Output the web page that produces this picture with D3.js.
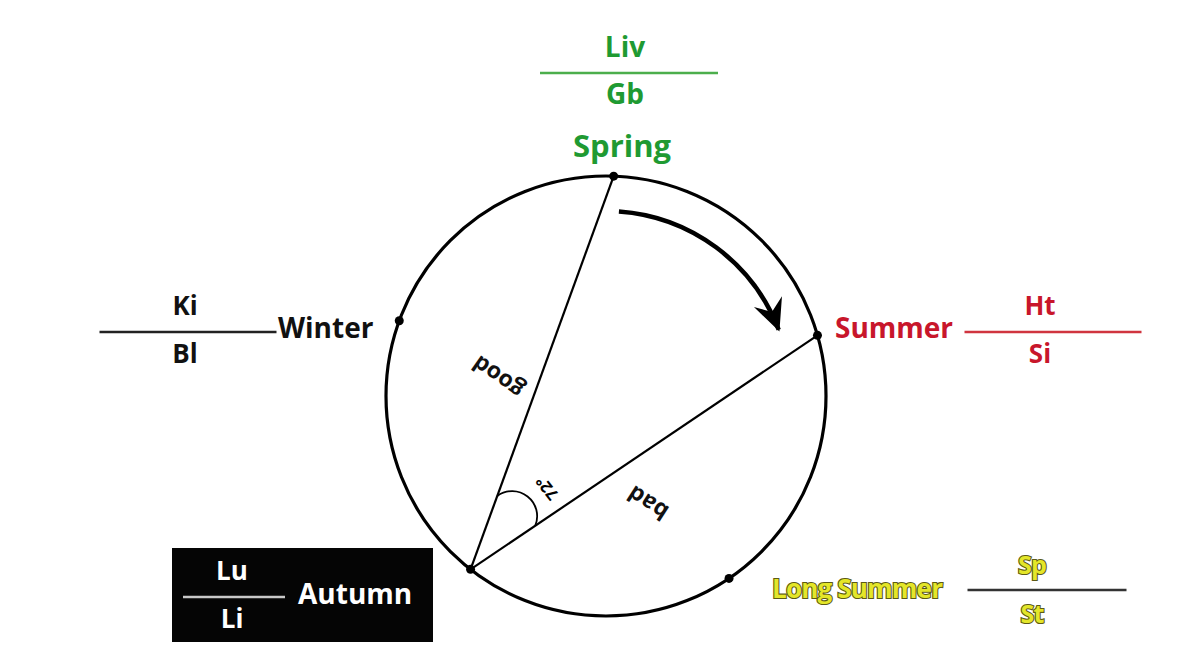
<!DOCTYPE html>
<html lang="en">
<head>
<meta charset="utf-8">
<style>
    body { margin: 0; background: #fff; }
    text { font-family: "Open Sans", "DejaVu Sans", sans-serif; font-weight: 700; }
</style>
<script src="https://d3js.org/d3.v7.min.js"></script>
</head>
<body>
<script>
    // seasons around the wheel, angle in degrees clockwise from top
    var seasons = ["Spring", "Summer", "Long Summer", "Autumn", "Winter"];
    var seasonAngles = [2, 74, 146, 218, 290];
    var upper = ["Liv", "Ht", "Sp", "Lu", "Ki"];
    var lower = ["Gb", "Si", "St", "Li", "Bl"];
    // chords drawn from Autumn
    var chordFrom = "Autumn";
    var chordTo = ["Spring", "Summer"];
    var chordLabels = ["good", "bad"];
    var angleLabel = "72°";
    var arrowRange = [4, 69];   // degrees of the turning arrow

    var width = 1199, height = 668;
    var cx = 606, cy = 396, r = 220;

    var svg = d3.select("body").append("svg")
        .attr("width", width)
        .attr("height", height);

    var ang = d3.scaleLinear().domain([0, 360]).range([0, 2 * Math.PI]);

    function pt(deg, rad) {
        var a = ang(deg);
        return [cx + rad * Math.sin(a), cy - rad * Math.cos(a)];
    }
    function posOf(name) {
        return pt(seasonAngles[seasons.indexOf(name)], r);
    }

    // layout of each season's label block
    var layout = {
        "Spring":      { x: 622, y: 157, anchor: "middle", color: "#1f9a32", line: "#4cae4c", fx: 629, fw: 178, ly: 73, ny: 57, dy: 104, size: 31, fsize: 28, fxText: 625 },
        "Summer":      { x: 835, y: 338, anchor: "start", color: "#c8162b", line: "#d0343f", fx: 1053, fw: 177, ly: 332, ny: 315, dy: 363, size: 28, fsize: 26, fxText: 1040 },
        "Long Summer": { x: 772, y: 598, anchor: "start", color: "#e4e629", line: "#333", fx: 1047, fw: 159, ly: 590, ny: 574, dy: 623, size: 26, fsize: 25, fxText: 1032, outline: "#5c5a14" },
        "Autumn":      { x: 298, y: 604, anchor: "start", color: "#fff", line: "#c8c8c8", fx: 234, fw: 102, ly: 597, ny: 580, dy: 628, size: 28, fsize: 26, fxText: 232 },
        "Winter":      { x: 278, y: 338, anchor: "start", color: "#111", line: "#222", fx: 188, fw: 177, ly: 332, ny: 315, dy: 363, size: 28, fsize: 26, fxText: 185 }
    };

    // black box behind Autumn
    svg.append("rect")
        .attr("x", 172).attr("y", 548)
        .attr("width", 261).attr("height", 94)
        .attr("fill", "#050505");

    // the wheel
    svg.append("circle")
        .attr("cx", cx).attr("cy", cy).attr("r", r)
        .attr("fill", "none")
        .attr("stroke", "#000")
        .attr("stroke-width", 3.2);

    // chords
    var a0 = posOf(chordFrom);
    chordTo.forEach(function(name) {
        var p = posOf(name);
        svg.append("line")
            .attr("x1", a0[0]).attr("y1", a0[1])
            .attr("x2", p[0]).attr("y2", p[1])
            .attr("stroke", "#000")
            .attr("stroke-width", 2.2);
    });

    // little angle mark at Autumn
    function along(name, d) {
        var p = posOf(name);
        var dx = p[0] - a0[0], dy = p[1] - a0[1];
        var L = Math.sqrt(dx * dx + dy * dy);
        return [a0[0] + dx / L * d, a0[1] + dy / L * d];
    }
    var m1 = along(chordTo[0], 78), m2 = along(chordTo[1], 78);
    svg.append("path")
        .attr("d", "M" + m1[0] + "," + m1[1] + " A25,25 0 0,1 " + m2[0] + "," + m2[1])
        .attr("fill", "none")
        .attr("stroke", "#000")
        .attr("stroke-width", 1.8);

    svg.append("text")
        .attr("transform", "translate(547,488) rotate(232)")
        .attr("text-anchor", "middle")
        .attr("dy", "0.35em")
        .attr("font-size", 16)
        .text(angleLabel);

    // chord labels (upside down)
    var labelPos = [[498, 377, 215], [648, 503, 213]];
    chordLabels.forEach(function(t, i) {
        svg.append("text")
            .attr("transform", "translate(" + labelPos[i][0] + "," + labelPos[i][1] + ") rotate(" + labelPos[i][2] + ")")
            .attr("text-anchor", "middle")
            .attr("dy", "0.35em")
            .attr("font-size", 23)
            .attr("fill", "#111")
            .text(t);
    });

    // turning arrow
    svg.append("defs").append("marker")
        .attr("id", "head")
        .attr("markerUnits", "userSpaceOnUse")
        .attr("viewBox", "-40 -20 44 40")
        .attr("markerWidth", 44).attr("markerHeight", 40)
        .attr("refX", 0).attr("refY", 0)
        .attr("orient", "auto")
        .append("path")
        .attr("d", "M2,0 L-30,-15 L-19,0 L-30,15 Z")
        .attr("fill", "#000");

    var arcPath = d3.path();
    arcPath.arc(cx, cy, 185, ang(arrowRange[0]) - Math.PI / 2, ang(arrowRange[1]) - Math.PI / 2, false);
    svg.append("path")
        .attr("d", arcPath.toString())
        .attr("fill", "none")
        .attr("stroke", "#000")
        .attr("stroke-width", 4.5)
        .attr("marker-end", "url(#head)");

    // dots on the wheel
    svg.selectAll(".dot")
        .data(seasons)
        .enter().append("circle")
        .attr("class", "dot")
        .attr("cx", function(d) { return posOf(d)[0]; })
        .attr("cy", function(d) { return posOf(d)[1]; })
        .attr("r", 4.5)
        .attr("fill", "#000");

    // season names and fractions
    seasons.forEach(function(name, i) {
        var L = layout[name];
        var tx = L.fxText || L.fx;
        var t = svg.append("text")
            .attr("x", L.x).attr("y", L.y)
            .attr("text-anchor", L.anchor)
            .attr("font-size", L.size)
            .attr("fill", L.color)
            .text(name);
        svg.append("line")
            .attr("x1", L.fx - L.fw / 2).attr("x2", L.fx + L.fw / 2)
            .attr("y1", L.ly).attr("y2", L.ly)
            .attr("stroke", L.line)
            .attr("stroke-width", 2.5);
        var nu = svg.append("text")
            .attr("x", tx).attr("y", L.ny)
            .attr("text-anchor", "middle")
            .attr("font-size", L.fsize)
            .attr("fill", L.color)
            .text(upper[i]);
        var de = svg.append("text")
            .attr("x", tx).attr("y", L.dy)
            .attr("text-anchor", "middle")
            .attr("font-size", L.fsize)
            .attr("fill", L.color)
            .text(lower[i]);
        if (L.outline) {
            [t, nu, de].forEach(function(s) {
                s.attr("stroke", L.outline)
                 .attr("stroke-width", 2.2)
                 .attr("paint-order", "stroke")
                 .attr("letter-spacing", -0.8);
            });
        }
    });
</script>
</body>
</html>
